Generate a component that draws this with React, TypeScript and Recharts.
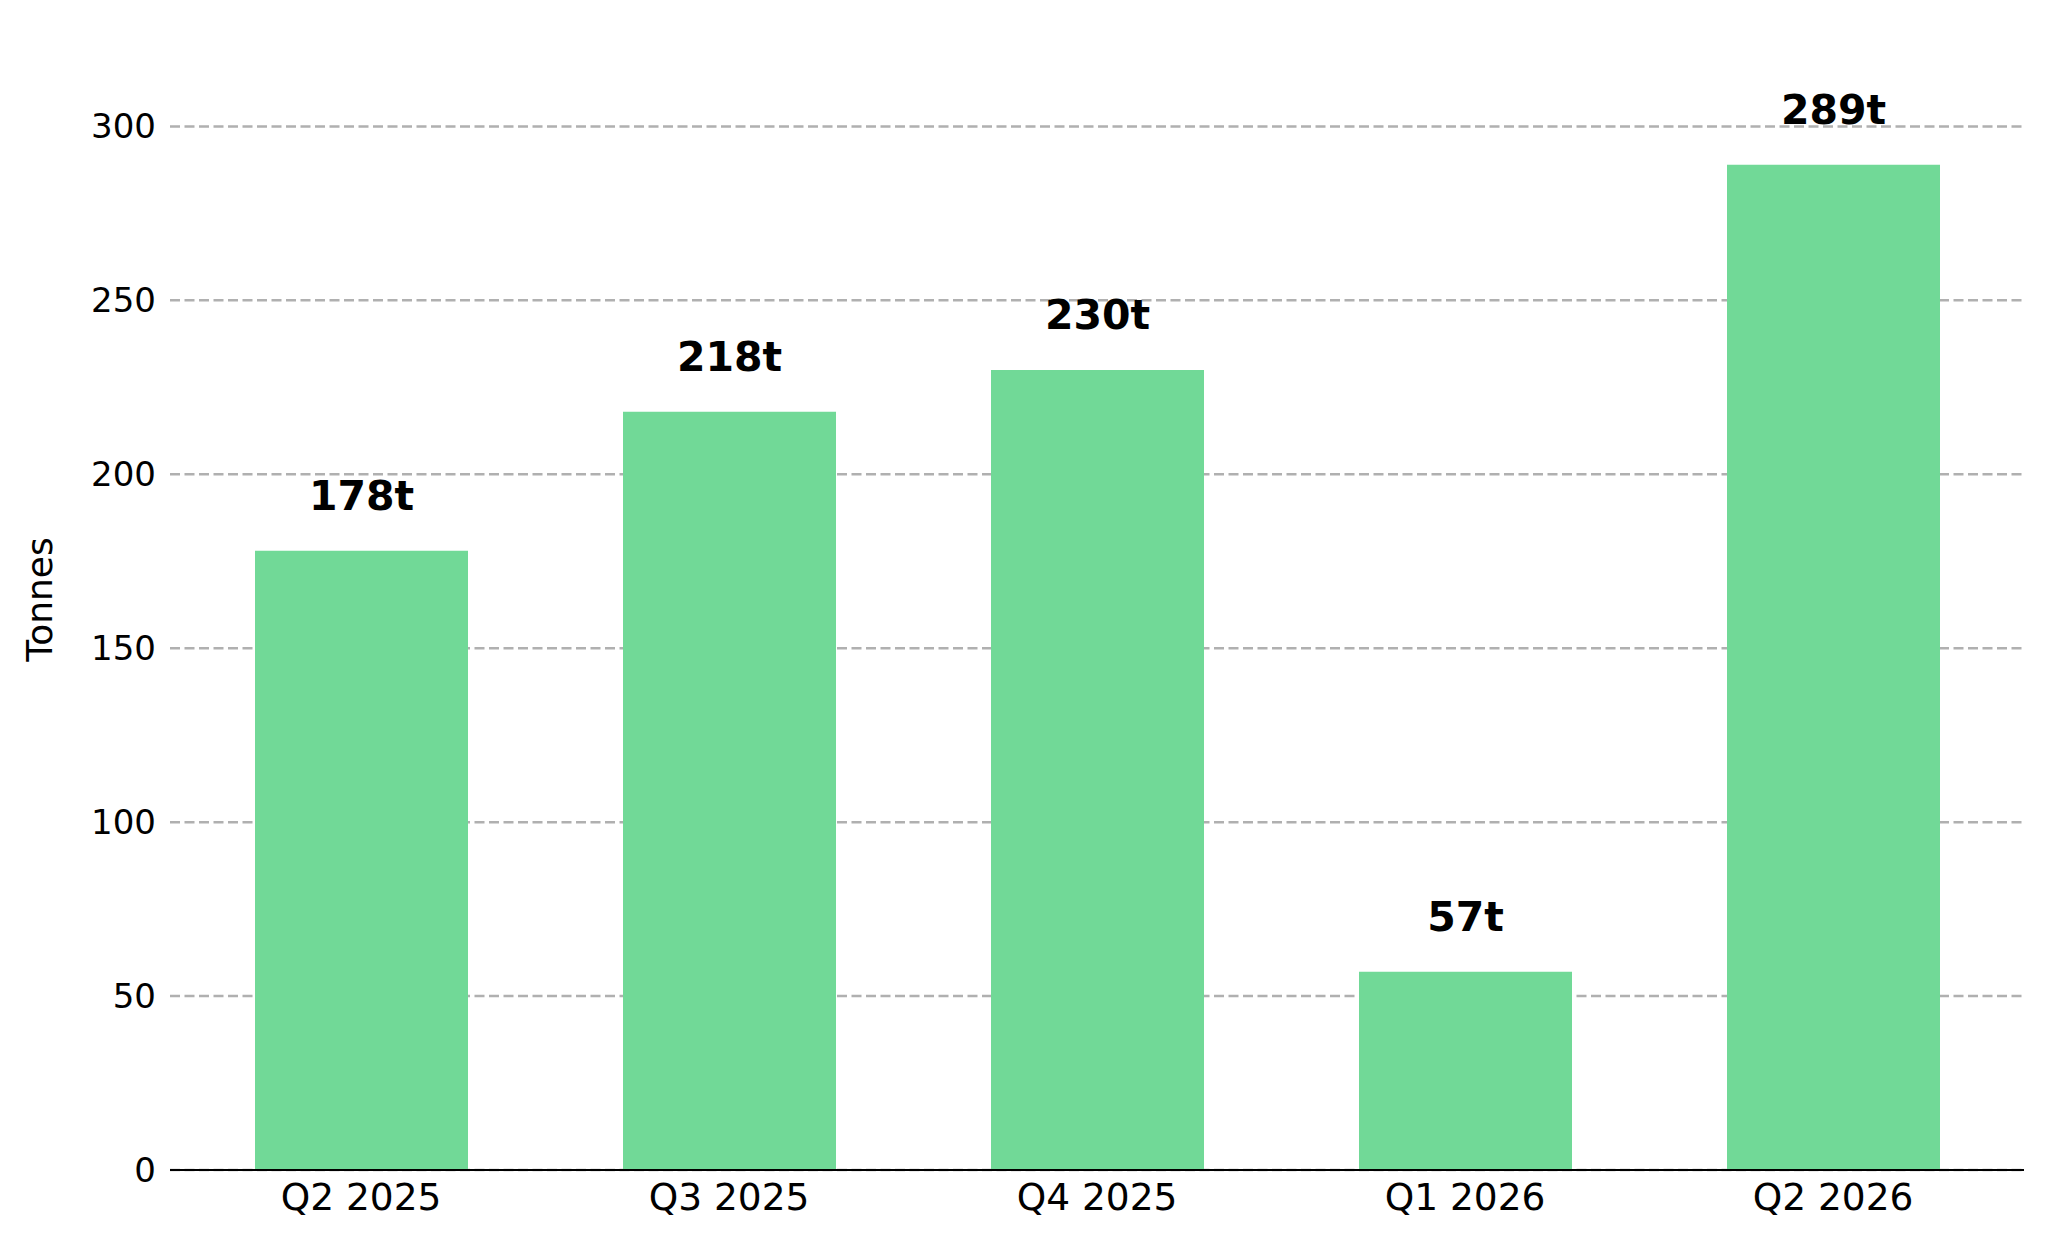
import React from "react";
import { Bar, BarChart, CartesianGrid, LabelList, XAxis, YAxis } from "recharts";

const quarters = ["Q2 2025", "Q3 2025", "Q4 2025", "Q1 2026", "Q2 2026"];
const tonnes = [178, 218, 230, 57, 289];
const yTicks = [0, 50, 100, 150, 200, 250, 300];

const data = quarters.map((q, i) => ({ quarter: q, tonnes: tonnes[i] }));

const W = 2048;
const H = 1242;
const margin = { top: 29, right: 24, bottom: 0, left: 0 };
const xAxisHeight = 72;
const font = "DejaVu Sans, sans-serif";

function YLabel() {
  const cy = margin.top + (H - margin.top - xAxisHeight) / 2;
  return (
    <text
      x={52}
      y={cy}
      transform={`rotate(-90, 52, ${cy})`}
      textAnchor="middle"
      fontFamily={font}
      fontSize={36}
      fill="#000"
    >
      Tonnes
    </text>
  );
}

export default function App() {
  return (
    <div style={{ position: "absolute", left: 0, top: 0, width: W, height: H, background: "#fff" }}>
      <BarChart width={W} height={H} data={data} margin={margin}>
        <CartesianGrid
          horizontal={true}
          vertical={false}
          horizontalValues={yTicks}
          stroke="#b0b0b0"
          strokeWidth={2.5}
          strokeDasharray="10 4.5"
        />
        <XAxis
          dataKey="quarter"
          height={xAxisHeight}
          padding={{ left: 7, right: 7 }}
          tickLine={false}
          tickSize={0}
          tickMargin={13}
          axisLine={{ stroke: "#000", strokeWidth: 2 }}
          tick={{ fill: "#000", fontSize: 37.5, fontFamily: font }}
        />
        <YAxis
          width={170}
          domain={[0, 328]}
          ticks={yTicks}
          allowDataOverflow
          axisLine={false}
          tickLine={false}
          tickSize={0}
          tickMargin={14}
          tick={{ fill: "#000", fontSize: 34, fontFamily: font }}
          label={<YLabel />}
        />
        <Bar dataKey="tonnes" fill="#71d997" barSize={213} isAnimationActive={false}>
          <LabelList
            dataKey="tonnes"
            position="top"
            offset={41}
            formatter={(v: number) => `${v}t`}
            fill="#000"
            fontSize={41}
            fontWeight="bold"
            fontFamily={font}
          />
        </Bar>
      </BarChart>
    </div>
  );
}
